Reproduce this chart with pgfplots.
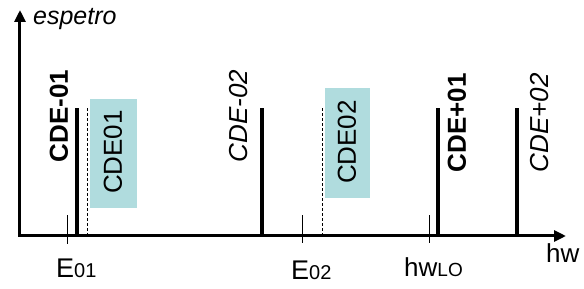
\documentclass[border=0pt]{standalone}
\usepackage{pgfplots}
\pgfplotsset{compat=1.18}
\usepackage{fontspec}
\setmainfont{Liberation Sans}
\usetikzlibrary{arrows.meta}
\definecolor{boxcol}{RGB}{176,220,222}
\newcommand{\lblfont}{\fontsize{26}{28}\selectfont}
\newcommand{\elabfont}{\fontsize{27}{30}\selectfont}
\newcommand{\subfont}{\fontsize{20}{22}\selectfont}
\begin{document}
\begin{tikzpicture}
\begin{axis}[
  scale only axis, width=546pt, height=226pt,
  xmin=20, xmax=566, ymin=0, ymax=226,
  axis x line=bottom, axis y line=left,
  axis line style={line width=3pt, line cap=rect, -{Triangle[length=12pt,width=11pt]}},
  xtick=\empty, ytick=\empty,
  clip=false,
]
% invisible frame fixing the picture size
\path (axis cs:0,-53) rectangle (axis cs:584,236);
% shaded boxes
\addplot[fill=boxcol, draw=none] coordinates {(90,28) (137,28) (137,137) (90,137)};
\addplot[fill=boxcol, draw=none] coordinates {(325,38) (370,38) (370,148) (325,148)};
% spectral lines
\addplot[ycomb, line width=4pt, mark=none] coordinates {(77,128) (262,128) (438,128) (517,128)};
\addplot[ycomb, line width=0.8pt, dash pattern=on 3pt off 2pt, mark=none] coordinates {(87,129) (322,129)};
% ticks
\addplot[line width=0.8pt, mark=none] coordinates {(67,-8) (67,21)};
\addplot[line width=0.8pt, mark=none] coordinates {(302,-7) (302,21)};
\addplot[line width=0.8pt, mark=none] coordinates {(429,-7) (429,21)};
% rotated labels
\node[rotate=90, font=\lblfont\bfseries] at (axis cs:59,120) {CDE-01};
\node[rotate=90, font=\lblfont] at (axis cs:113,84) {CDE01};
\node[rotate=90, font=\lblfont\itshape] at (axis cs:239,120) {CDE-02};
\node[rotate=90, font=\lblfont] at (axis cs:347,94) {CDE02};
\node[rotate=90, font=\lblfont\bfseries] at (axis cs:457,113) {CDE+01};
\node[rotate=90, font=\lblfont\itshape] at (axis cs:540,113) {CDE+02};
% horizontal labels
\node[anchor=base west, inner sep=0pt, font=\fontsize{25}{28}\selectfont\itshape] at (axis cs:33,211) {espetro};
\node[anchor=base west, inner sep=0pt, font=\elabfont] at (axis cs:56,-42) {E{\subfont 01}};
\node[anchor=base west, inner sep=0pt, font=\elabfont] at (axis cs:291,-43) {E{\subfont 02}};
\node[anchor=base west, inner sep=0pt, font=\lblfont] at (axis cs:404,-40) {hw{\fontsize{19}{21}\selectfont LO}};
\node[anchor=base west, inner sep=0pt, font=\lblfont] at (axis cs:546,-27) {hw};
\end{axis}
\end{tikzpicture}
\end{document}
